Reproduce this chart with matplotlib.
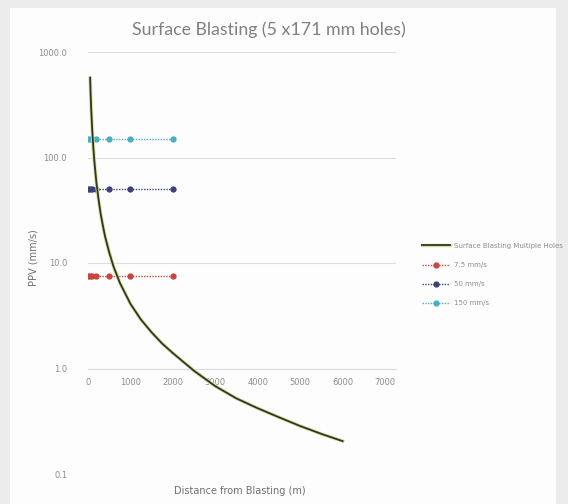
import matplotlib
matplotlib.use("Agg")
import matplotlib.pyplot as plt
import matplotlib.patheffects as pe
from matplotlib.patches import Rectangle
from matplotlib.ticker import FixedLocator, FixedFormatter

# attenuation curve, PPV (mm/s) against distance (m)
curve_dist = [50, 60, 75, 100, 125, 150, 175, 200, 250, 300, 350, 400, 500,
              600, 750, 1000, 1250, 1500, 1750, 2000, 2500, 3000, 3500,
              4000, 4500, 5000, 5500, 6000]
curve_ppv = [570, 421, 291, 181, 125, 92, 72, 57, 39.7, 29, 22.7, 18, 12.6,
             9.3, 6.5, 4.1, 2.9, 2.2, 1.72, 1.4, 0.95, 0.68, 0.52,
             0.42, 0.345, 0.285, 0.24, 0.205]

# threshold lines
limit_dist = [10, 50, 100, 200, 500, 1000, 2000]
limits = [7.5, 50, 150]
limit_labels = ["7.5 mm/s", "50 mm/s", "150 mm/s"]
limit_colors = ["#c9453f", "#3d4177", "#4aaec4"]

y_ticks = [0.1, 1, 10, 100, 1000]
y_ticklabels = ["0.1", "1.0", "10.0", "100.0", "1000.0"]
x_ticks = [0, 1000, 2000, 3000, 4000, 5000, 6000, 7000]

W, H = 568, 504
fig = plt.figure(figsize=(W / 100, H / 100), dpi=100)
fig.patch.set_facecolor("#ececec")
fig.patches.append(Rectangle((10 / W, 0), 546 / W, 496 / H,
                             transform=fig.transFigure, facecolor="#fdfdfd",
                             edgecolor="none", zorder=-5))

ax = fig.add_axes([88 / W, (H - 474) / H, 307.6 / W, 422 / H])
ax.set_facecolor("none")
ax.set_yscale("log")
ax.set_xlim(0, 7250)
ax.set_ylim(0.1, 1000)

grey = "#8c8c8c"
ax.yaxis.set_major_locator(FixedLocator(y_ticks))
ax.yaxis.set_major_formatter(FixedFormatter(y_ticklabels))
ax.yaxis.set_minor_locator(FixedLocator([]))
ax.set_xticks(x_ticks)
ax.set_xticklabels([str(v) for v in x_ticks])
ax.tick_params(axis="both", length=0, labelsize=6, labelcolor=grey)
ax.tick_params(axis="y", pad=15)
ax.tick_params(axis="x", pad=7)

for s in ["top", "right", "left"]:
    ax.spines[s].set_visible(False)
ax.spines["bottom"].set_position(("data", 1))
ax.spines["bottom"].set_color("#d9d9d9")
ax.grid(axis="y", which="major", color="#dcdcdc", linewidth=0.8)
ax.set_axisbelow(True)

ax.plot(curve_dist, curve_ppv, color="#2f3624", linewidth=1.3,
        label="Surface Blasting Multiple Holes",
        path_effects=[pe.Stroke(linewidth=2.5, foreground="#d4e09c"), pe.Normal()],
        zorder=4)

for val, lab, col in zip(limits, limit_labels, limit_colors):
    ax.plot(limit_dist, [val] * len(limit_dist), color=col, linewidth=1.0,
            linestyle=(0, (1, 1)), marker="o", markersize=3.5,
            markeredgecolor=col, markerfacecolor=col, label=lab, zorder=3)

fig.text(269 / W, 1 - 30 / H, "Surface Blasting (5 x171 mm holes)",
         ha="center", va="center", fontsize=12.8, color="#808080",
         family="Lato")
fig.text(33 / W, 1 - 258 / H, "PPV (mm/s)", rotation=90, ha="center",
         va="center", fontsize=7, color="#6f6f6f")
fig.text(240 / W, 1 - 491 / H, "Distance from Blasting (m)", ha="center",
         va="center", fontsize=7, color="#6f6f6f")

leg = ax.legend(loc="upper left", bbox_to_anchor=(419 / W, 1 - 240 / H),
                bbox_transform=fig.transFigure, frameon=False, fontsize=5,
                handlelength=4.0, handletextpad=0.6, labelspacing=1.9,
                borderaxespad=0)
for t in leg.get_texts():
    t.set_color(grey)

fig.savefig("out.png", dpi=100, facecolor=fig.get_facecolor())
